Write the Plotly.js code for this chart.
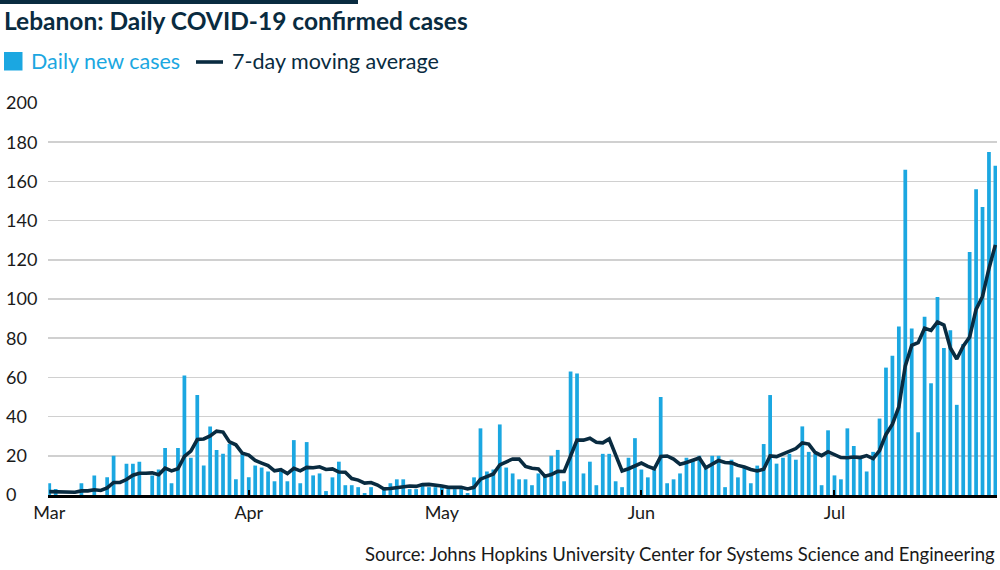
<!DOCTYPE html>
<html><head><meta charset="utf-8">
<script src="https://cdn.plot.ly/plotly-3.0.1.min.js"></script>
<style>html,body{margin:0;padding:0;background:#fff}#chart{width:1000px;height:570px}</style>
</head><body><div id="chart"></div>
<script>
// first day of the series
const startDate = [2020, 2, 1];
// Daily new cases, Mar 1 - Jul 26 2020
const daily = [
  6,3,0,0,0,6,0,10,0,9,20,0,16,16,17,0,10,13,24,6,24,61,19,51,15,35,23,21,26,8,21,
  9,15,14,12,7,12,7,28,6,27,10,11,2,9,17,5,5,4,1,4,0,3,6,8,8,3,3,6,4,4,
  4,3,3,3,1,9,34,12,13,36,14,11,8,8,5,11,10,20,23,7,63,62,11,17,5,21,21,7,4,19,29,
  13,9,13,50,6,8,11,19,18,20,15,20,20,4,18,9,14,6,15,26,51,16,19,21,18,35,22,21,5,33,
  10,8,34,25,19,12,22,39,65,71,86,166,85,32,91,57,101,75,84,46,77,124,156,147,175,168
];
// 7-day moving average
const avg7 = [
  1.7,1.7,1.4,1.4,1.4,2.1,2.1,2.7,2.3,3.6,6.4,6.4,7.9,10.1,11.1,11.1,11.3,10.3,13.7,12.3,13.4,19.7,22.4,28.3,28.6,30.1,32.6,32.1,27.1,25.6,21.3,
  20.4,17.6,16.3,15.0,12.3,12.9,10.9,13.6,12.3,14.1,13.9,14.4,13.0,13.3,11.7,11.6,8.4,7.6,6.1,6.4,5.1,3.1,3.3,3.7,4.3,4.6,4.4,5.3,5.4,5.1,
  4.6,3.9,3.9,3.9,3.1,3.9,8.1,9.3,10.7,15.4,17.0,18.4,18.3,14.6,13.6,13.3,9.6,10.4,12.1,12.0,19.9,28.0,28.0,29.0,26.9,26.6,28.6,20.6,12.3,13.4,15.1,
  16.3,14.6,13.4,19.6,19.9,18.3,15.7,16.6,17.9,18.9,13.9,15.9,17.6,16.6,16.4,15.1,14.3,13.0,12.3,13.1,19.9,19.6,21.0,22.0,23.7,26.6,26.0,21.7,20.1,22.1,
  20.6,19.1,19.0,19.4,19.1,20.1,18.6,22.7,30.9,36.1,44.9,65.9,76.3,77.7,85.1,84.0,88.3,86.7,75.0,69.4,75.9,80.6,94.7,101.3,115.6,127.6
];
const monthTicks = ['2020-03-01','2020-04-01','2020-05-01','2020-06-01','2020-07-01'];
const monthLabels = ['Mar','Apr','May','Jun','Jul'];
const yTicks = [0,20,40,60,80,100,120,140,160,180,200];
const titleText = 'Lebanon: Daily COVID-19 confirmed cases';
const legendBars = 'Daily new cases';
const legendLine = '7-day moving average';
const sourceText = 'Source: Johns Hopkins University Center for Systems Science and Engineering';

const dates = daily.map((_, i) => {
  const d = new Date(Date.UTC(startDate[0], startDate[1], startDate[2] + i));
  return d.toISOString().slice(0, 10);
});

const BLUE = '#1ba7e1';
const NAVY = '#092b40';
const FONT = 'Lato, "Open Sans", sans-serif';

const ML = 5, MR = 3, MT = 103, MB = 75, W = 1000, H = 570;
const PW = W - ML - MR, PH = H - MT - MB;
const px2x = p => (p - ML) / PW;
const px2y = p => 1 - (p - MT) / PH;

const traces = [
  { type: 'bar', x: dates, y: daily, marker: { color: BLUE }, name: legendBars, hoverinfo: 'x+y' },
  { type: 'scatter', mode: 'lines', x: dates, y: avg7, name: legendLine,
    line: { color: NAVY, width: 3.6, shape: 'linear' } }
];

const layout = {
  width: W, height: H,
  margin: { l: ML, r: MR, t: MT, b: MB, pad: 0 },
  paper_bgcolor: '#fff', plot_bgcolor: '#fff',
  showlegend: false,
  bargap: 0.42,
  font: { family: FONT, color: '#1a1a1a' },
  title: {
    text: titleText, xref: 'container', yref: 'container',
    x: 4 / W, xanchor: 'left', y: 1 - 21 / H, yanchor: 'middle',
    font: { family: FONT, size: 24.5, weight: 700, color: NAVY }
  },
  xaxis: {
    type: 'date',
    domain: [px2x(48.3), 1],
    range: ['2020-02-29 20:30', '2020-07-26 06:00'],
    tickvals: monthTicks, ticktext: monthLabels,
    ticks: 'inside', ticklen: 5, tickwidth: 2, tickcolor: '#000',
    showline: true, linecolor: '#000', linewidth: 2.5,
    showgrid: false, zeroline: false,
    tickfont: { family: FONT, size: 18, color: '#1a1a1a' },
    fixedrange: true
  },
  yaxis: {
    range: [0, 200],
    side: 'right', anchor: 'free', position: 0,
    tickvals: yTicks,
    ticks: '', showline: false, zeroline: false,
    showgrid: true, gridcolor: '#d0d0d0', gridwidth: 1.7,
    tickfont: { family: FONT, size: 18, color: '#1a1a1a' },
    automargin: false, fixedrange: true
  },
  shapes: [
    { type: 'rect', xref: 'paper', yref: 'paper', x0: px2x(0), x1: px2x(358), y0: px2y(4), y1: px2y(0),
      fillcolor: NAVY, line: { width: 0 } },
    { type: 'rect', xref: 'paper', yref: 'paper', x0: px2x(4), x1: px2x(22.5), y0: px2y(70.5), y1: px2y(52),
      fillcolor: BLUE, line: { width: 0 } },
    { type: 'line', xref: 'paper', yref: 'paper', x0: px2x(196), x1: px2x(223), y0: px2y(62), y1: px2y(62),
      line: { color: NAVY, width: 3.6 } }
  ],
  annotations: [
    { text: legendBars, xref: 'paper', yref: 'paper', x: px2x(29), y: px2y(61), xanchor: 'left', yanchor: 'middle',
      showarrow: false, font: { family: FONT, size: 21.5, color: BLUE } },
    { text: legendLine, xref: 'paper', yref: 'paper', x: px2x(230), y: px2y(61), xanchor: 'left', yanchor: 'middle',
      showarrow: false, font: { family: FONT, size: 21.5, color: NAVY } },
    { text: sourceText, xref: 'paper', yref: 'paper', x: px2x(997), y: px2y(554), xanchor: 'right', yanchor: 'middle',
      showarrow: false, font: { family: FONT, size: 18.5, color: '#1a1a1a' } }
  ]
};

Plotly.newPlot('chart', traces, layout, { displayModeBar: false, staticPlot: true });
</script>
</body></html>
